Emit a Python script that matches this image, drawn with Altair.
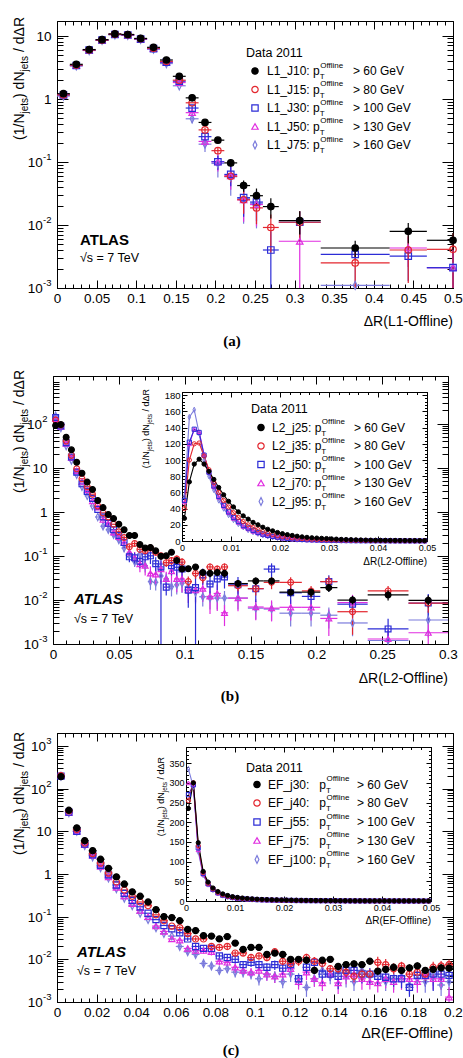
import altair as alt
import pandas as pd

W, H = 463, 1058
FONT = "Liberation Sans"

# ---------------------------------------------------------------- styling
SERIES = ["s0", "s1", "s2", "s3", "s4"]
STROKE = ["#000000", "#e3262e", "#2c2cd6", "#e02de0", "#7b7bdc"]
FILL = ["#000000", "transparent", "transparent", "transparent", "transparent"]
SHAPE = ["circle", "circle", "square", "triangle-up", "M0,-1.25L0.6,0L0,1.25L-0.6,0Z"]
PT_CUT = ["> 60 GeV", "> 80 GeV", "> 100 GeV", "> 130 GeV", "> 160 GeV"]

# ---------------------------------------------------------------- (a) L1
A_TRIG = ["L1_J10", "L1_J15", "L1_J30", "L1_J50", "L1_J75"]
A_EDGES = [0, 0.01625, 0.0325, 0.04875, 0.065, 0.08125, 0.0975, 0.11375, 0.13,
           0.14625, 0.1625, 0.17875, 0.195, 0.21125, 0.2275, 0.24375, 0.26,
           0.28, 0.333, 0.42, 0.467, 0.533]
A_J10 = [1.2, 3.5, 6.0, 8.6, 10.6, 10.4, 9.0, 6.5, 4.1, 2.26, 1.03, 0.42, 0.22,
         0.096, 0.042, 0.029, 0.0195, 0.0117, 0.0043, 0.0079, 0.0057]
A_J15 = [1.15, 3.4, 5.9, 8.5, 10.5, 10.3, 8.9, 6.3, 3.9, 1.96, 0.86, 0.32, 0.15,
         0.059, 0.025, 0.0186, 0.0091, 0.011, 0.0025, 0.0040, 0.0041]
A_J30 = [1.15, 3.35, 5.9, 8.5, 10.4, 10.2, 8.8, 6.2, 3.8, 1.89, 0.71, 0.25, 0.10,
         0.063, 0.027, 0.023, 0.0040, 0.011, 0.0034, 0.0032, 0.0021]
A_J50 = [1.15, 3.35, 5.85, 8.4, 10.4, 10.2, 8.8, 6.2, 3.75, 1.8, 0.6, 0.21, 0.10,
         0.06, 0.025, 0.021, None, 0.0055, None, 0.0043, 0.0021]
A_J75 = [1.1, 3.3, 5.8, 8.4, 10.3, 10.1, 8.7, 6.1, 3.6, 1.6, 0.48, 0.19, 0.094,
         0.058, 0.026, 0.022, None, None, 0.0011, None, 0.0021]
# relative statistical errors, covering the last bins of each series
A_ERR = [
    [0.12, 0.2, 0.3, 0.35, 0.4, 0.3, 0.35, 0.3],
    [0.08, 0.12, 0.2, 0.4, 0.45, 0.6, 0.5, 0.7, 0.7, 0.8],
    [0.1, 0.15, 0.25, 0.35, 0.5, 0.5, 0.99, 0.5, 0.15, 0.6, 0.99],
    [0.12, 0.2, 0.3, 0.4, 0.55, 0.55, None, 0.9, None, 0.5, 0.99],
    [0.15, 0.25, 0.4, 0.5, 0.6, 0.6, None, None, 0.99, None, 0.99],
]

# ---------------------------------------------------------------- (b) L2
B_TRIG = ["L2_j25", "L2_j35", "L2_j50", "L2_j70", "L2_j95"]
B_EDGES = [round(0.004 * i, 4) for i in range(26)] + [
    0.1055, 0.111, 0.1165, 0.122, 0.1275, 0.133, 0.148, 0.16, 0.172, 0.189,
    0.203, 0.216, 0.239, 0.27, 0.30]
B_J25 = [90, 95, 49, 25.4, 13.3, 7.5, 4.7, 3.2, 1.8, 1.24, 0.87, 0.70, 0.52,
         0.39, 0.29, 0.29, 0.18, 0.15, 0.155, 0.13, 0.098, 0.10, 0.12, 0.078,
         0.05, 0.051, 0.056, 0.042, 0.04, 0.042, 0.040, 0.0235, 0.027, 0.027,
         0.015, 0.015, 0.019, 0.0099, 0.013, 0.0098]
B_J35 = [120, 93, 40, 19, 9.4, 5.6, 3.7, 2.5, 1.35, 0.94, 0.76, 0.52, 0.35,
         0.26, 0.16, 0.19, 0.14, 0.13, 0.15, 0.12, 0.1, 0.07, 0.078, 0.085,
         0.072, 0.026, 0.04, 0.032, 0.056, 0.05, 0.056, 0.021, 0.018, 0.025,
         0.025, 0.016, 0.026, 0.0054, 0.016, 0.0085]
B_J50 = [137, 88, 37, 17.5, 7.9, 4.3, 2.9, 2.0, 1.13, 0.76, 0.55, 0.39, 0.29,
         0.20, 0.095, 0.09, 0.075, 0.095, 0.1, 0.066, 0.056, 0.0195, 0.06,
         0.055, 0.05, 0.0166, 0.019, 0.037, 0.023, 0.03, 0.033, 0.022, 0.018,
         0.05, 0.0145, 0.012, 0.026, 0.008, 0.0022, 0.0085]
B_J70 = [127, 85, 35, 17, 8.5, 4.8, 3.1, 1.75, 1.25, 0.66, 0.53, 0.34, 0.27,
         0.2, 0.12, 0.09, 0.065, 0.06, 0.04, 0.038, 0.05, 0.03, 0.045, 0.03,
         0.03, 0.017, 0.0166, 0.018, 0.012, 0.014, 0.0051, 0.011, 0.0069,
         0.0065, 0.0068, 0.0068, 0.0038, 0.0087, 0.0013, 0.0018]
B_J95 = [150, 80, 31, 14.5, 6.9, 3.7, 2.3, 1.35, 0.76, 0.47, 0.39, 0.30, 0.23,
         0.15, 0.11, 0.074, 0.11, 0.06, 0.026, 0.025, 0.035, 0.03, 0.02, 0.022,
         0.024, 0.02, 0.015, 0.0118, 0.011, 0.011, 0.011, 0.011, 0.0065,
         0.0062, 0.005, 0.005, 0.0045, 0.003, 0.0012, 0.0035]
B_ERR = [
    [0.08, 0.08, 0.1, 0.1, 0.1, 0.12, 0.12, 0.12, 0.12, 0.15, 0.15,
     0.15, 0.15, 0.18, 0.18, 0.18, 0.2,
     0.2, 0.2, 0.2, 0.2, 0.22, 0.2, 0.25, 0.25, 0.3],
    [0.08, 0.1, 0.12, 0.12, 0.14, 0.15, 0.15, 0.16, 0.18, 0.2, 0.2, 0.2, 0.22,
     0.3, 0.25, 0.25, 0.2, 0.2, 0.2,
     0.25, 0.3, 0.3, 0.3, 0.3, 0.3, 0.7, 0.3, 0.4],
    [0.1, 0.12, 0.14, 0.16, 0.25, 0.25, 0.3, 0.3, 0.3, 0.35, 0.4, 0.99, 0.35,
     0.4, 0.4, 0.45, 0.6, 0.99, 0.4, 0.5, 0.45, 0.45,
     0.5, 0.5, 0.35, 0.45, 0.5, 0.4, 0.5, 0.7, 0.6],
    [0.12, 0.14, 0.16, 0.2, 0.25, 0.3, 0.35, 0.35, 0.4, 0.45, 0.4, 0.5, 0.45,
     0.5, 0.5, 0.5, 0.5, 0.5, 0.5, 0.6, 0.6, 0.5,
     0.5, 0.5, 0.5, 0.5, 0.5, 0.6, 0.5, 0.6, 0.7],
    [0.1, 0.12, 0.14, 0.16, 0.2, 0.22, 0.25, 0.25, 0.3, 0.35, 0.35, 0.35, 0.35,
     0.4, 0.4, 0.4, 0.4, 0.4, 0.4, 0.45, 0.45, 0.45,
     0.45, 0.45, 0.45, 0.5, 0.5, 0.5, 0.5, 0.6, 0.6],
]

# inset (b): fine binning, linear scale
IN_EDGES = [round(0.001 * i, 4) for i in range(51)]
BI_J25 = [28, 73, 95, 101, 95, 86, 76, 66, 57, 49, 42, 36, 31, 27, 23, 20, 17,
          14.5, 12.5, 10.5, 9, 7.8, 6.8, 5.9, 5.1, 4.5, 4.0, 3.6, 3.3, 3.0, 2.6,
          2.3, 2.0, 1.8, 1.6, 1.4, 1.25, 1.1, 1.0, 0.9, 0.85, 0.8, 0.75, 0.7,
          0.65, 0.6, 0.55, 0.52, 0.5, 0.48]
BI_J35 = [40, 100, 120, 121, 105, 88, 72, 60, 50, 42, 35, 29, 24, 20, 17, 14,
          11.5, 9.5, 8, 6.5, 5.5, 4.6, 4.0, 3.5, 3.0, 2.6, 2.3, 2.0, 1.8, 1.6,
          1.4, 1.25, 1.1, 1.0, 0.9, 0.8, 0.72, 0.65, 0.6, 0.55, 0.5, 0.46, 0.42,
          0.38, 0.35, 0.32, 0.3, 0.28, 0.26, 0.25]
BI_J50 = [50, 122, 138, 134, 106, 85, 68, 55, 44, 36, 29, 24, 19, 16, 13, 10.5,
          8.5, 7, 5.7, 4.8, 4.0, 3.3, 2.8, 2.4, 2.0, 1.7, 1.5, 1.3, 1.1, 1.0,
          0.85, 0.75, 0.66, 0.6, 0.52, 0.46, 0.42, 0.38, 0.34, 0.31, 0.28,
          0.26, 0.24, 0.22, 0.2, 0.19, 0.18, 0.17, 0.16, 0.15]
BI_J70 = [48, 120, 138, 135, 107, 85, 67, 54, 43, 35, 28, 23, 18, 15, 12, 10, 8,
          6.5, 5.3, 4.3, 3.5, 2.9, 2.4, 2.0, 1.7, 1.45, 1.25, 1.1, 0.95, 0.85,
          0.75, 0.66, 0.58, 0.52, 0.46, 0.41, 0.37, 0.33, 0.3, 0.27, 0.25,
          0.23, 0.21, 0.2, 0.19, 0.18, 0.17, 0.16, 0.15, 0.14]
BI_J95 = [55, 153, 162, 133, 100, 80, 63, 50, 40, 32, 26, 21, 17, 13.5, 11, 9,
          7, 5.7, 4.6, 3.7, 3.0, 2.5, 2.1, 1.75, 1.45, 1.2, 1.0, 0.85, 0.75,
          0.65, 0.56, 0.5, 0.44, 0.39, 0.35, 0.31, 0.28, 0.25, 0.23, 0.21,
          0.19, 0.17, 0.16, 0.15, 0.14, 0.13, 0.12, 0.11, 0.1, 0.1]

# ---------------------------------------------------------------- (c) EF
C_TRIG = ["EF_j30", "EF_j40", "EF_j55", "EF_j75", "EF_j100"]
C_EDGES = [round(0.004 * i, 4) for i in range(51)]
C_J30 = [190, 31, 12, 6.0, 3.5, 2.2, 1.35, 0.85, 0.58, 0.38,
         0.30, 0.22, 0.145, 0.10, 0.095, 0.08, 0.05, 0.047, 0.036, 0.035,
         0.03, 0.034, 0.024, 0.017, 0.019, 0.019, 0.013, 0.014, 0.013, 0.010,
         0.010, 0.0095, 0.0055, 0.0095, 0.010, 0.0068, 0.0075, 0.0078, 0.0075, 0.009,
         0.0053, 0.0058, 0.0065, 0.0055, 0.0063, 0.007, 0.0055, 0.0058, 0.0063, 0.0062]
C_J40 = [200, 30, 11, 5.3, 3.0, 1.8, 1.05, 0.65, 0.42, 0.30,
         0.22, 0.18, 0.11, 0.08, 0.06, 0.055, 0.04, 0.03, 0.03, 0.02,
         0.019, 0.02, 0.014, 0.014, 0.011, 0.012, 0.011, 0.015, 0.009, 0.008,
         0.009, 0.011, 0.009, 0.008, 0.006, 0.006, 0.005, 0.004, 0.0045, 0.0045,
         0.0085, 0.0075, 0.006, 0.007, 0.0045, 0.005, 0.0045, 0.0065, 0.007, 0.0075]
C_J55 = [195, 28, 10, 5.0, 2.8, 1.6, 0.95, 0.55, 0.35, 0.24,
         0.17, 0.12, 0.085, 0.062, 0.052, 0.042, 0.03, 0.02, 0.018, 0.018,
         0.012, 0.011, 0.01, 0.0075, 0.0085, 0.0075, 0.0065, 0.0075, 0.0062, 0.0075,
         0.0035, 0.0065, 0.0085, 0.0045, 0.0045, 0.004, 0.0055, 0.0055, 0.0045, 0.0045,
         0.004, 0.0038, 0.0035, 0.0035, 0.0022, 0.0042, 0.0042, 0.0045, 0.0045, 0.0042]
C_J75 = [200, 27, 10, 4.8, 2.7, 1.5, 0.85, 0.48, 0.30, 0.20,
         0.14, 0.10, 0.06, 0.045, 0.03, 0.028, 0.018, 0.016, 0.016, 0.015,
         0.009, 0.0085, 0.0065, 0.0055, 0.005, 0.0055, 0.0045, 0.004, 0.0045, 0.006,
         0.003, 0.005, 0.0035, 0.0028, 0.0045, 0.0028, 0.004, 0.0045, 0.0035, 0.003,
         0.0028, 0.0035, 0.003, 0.0035, 0.0035, 0.003, 0.004, 0.0035, 0.0035, 0.0013]
C_J100 = [195, 27, 10, 4.6, 2.5, 1.4, 0.8, 0.45, 0.27, 0.18,
          0.12, 0.085, 0.055, 0.04, 0.035, 0.02, 0.015, 0.013, 0.008, 0.007,
          0.0055, 0.006, 0.005, 0.005, 0.0045, 0.0035, 0.0045, 0.004, 0.003, 0.0045,
          0.0035, 0.0022, 0.0035, 0.0055, 0.004, 0.005, 0.004, 0.003, 0.0055, 0.004,
          0.0045, 0.003, 0.0035, 0.004, 0.0025, 0.0035, 0.003, 0.004, 0.0025, 0.003]
C_ERR = [
    [0.05, 0.05, 0.06, 0.06, 0.07, 0.07, 0.08, 0.08, 0.09, 0.1,
     0.1, 0.12, 0.12, 0.12, 0.14, 0.14, 0.15, 0.2, 0.15, 0.15,
     0.18, 0.18, 0.18, 0.15, 0.2, 0.2, 0.2, 0.2, 0.2, 0.2],
    [0.08, 0.08, 0.1, 0.1, 0.12, 0.12, 0.14, 0.14, 0.15, 0.16,
     0.18, 0.18, 0.2, 0.2, 0.2, 0.22, 0.22, 0.25, 0.25, 0.2,
     0.25, 0.25, 0.25, 0.3, 0.3, 0.35, 0.35, 0.35, 0.25, 0.25,
     0.3, 0.3, 0.35, 0.3, 0.3],
    [0.1, 0.1, 0.12, 0.12, 0.15, 0.15, 0.18, 0.2, 0.2, 0.22,
     0.25, 0.25, 0.25, 0.3, 0.3, 0.3, 0.3, 0.3, 0.4, 0.3,
     0.5, 0.35, 0.3, 0.4, 0.4, 0.4, 0.35, 0.35, 0.4, 0.4,
     0.4, 0.45, 0.6, 0.4, 0.4],
    [0.12, 0.12, 0.15, 0.15, 0.18, 0.2, 0.2, 0.25, 0.25, 0.25,
     0.3, 0.3, 0.3, 0.3, 0.35, 0.35, 0.35, 0.35, 0.35, 0.3,
     0.45, 0.35, 0.4, 0.45, 0.35, 0.4, 0.4, 0.45, 0.45, 0.4,
     0.45, 0.4, 0.45, 0.45, 0.7],
    [0.12, 0.12, 0.15, 0.15, 0.18, 0.2, 0.2, 0.25, 0.25, 0.25,
     0.3, 0.3, 0.3, 0.3, 0.35, 0.35, 0.4, 0.35, 0.3, 0.35,
     0.4, 0.45, 0.4, 0.3, 0.35, 0.35, 0.4, 0.45, 0.35, 0.4,
     0.4, 0.45, 0.4, 0.45, 0.5],
]

# inset (c)
CI_J30 = [235, 300, 148, 75, 48, 33, 24, 18, 14, 11, 9, 7.5, 6.3, 5.3, 4.6, 4.0,
          3.5, 3.1, 2.8, 2.5, 2.2, 2.0, 1.8, 1.6, 1.5, 1.4, 1.3, 1.2, 1.1, 1.0,
          0.8, 0.7, 0.65, 0.6, 0.55, 0.5, 0.45, 0.42, 0.38, 0.35, 0.33, 0.31,
          0.29, 0.27, 0.24, 0.22, 0.2, 0.19, 0.17, 0.16]
CI_J40 = [255, 300, 140, 72, 45, 31, 22, 16, 12, 9.5, 7.8, 6.4, 5.3, 4.5, 3.8,
          3.3, 2.9, 2.6, 2.3, 2.0, 1.8, 1.6, 1.4, 1.3, 1.2, 1.05, 0.95, 0.85,
          0.75, 0.68, 0.6, 0.55, 0.48, 0.44, 0.4, 0.36, 0.33, 0.3, 0.28, 0.26,
          0.24, 0.22, 0.2, 0.19, 0.18, 0.17, 0.15, 0.14, 0.12, 0.11]
CI_J55 = [270, 295, 135, 70, 44, 30, 21, 15, 11.5, 9, 7.3, 6, 5, 4.2, 3.6, 3.1,
          2.7, 2.4, 2.1, 1.9, 1.7, 1.5, 1.3, 1.2, 1.05, 0.95, 0.85, 0.75, 0.65,
          0.6, 0.52, 0.46, 0.41, 0.37, 0.33, 0.3, 0.27, 0.25, 0.22, 0.2, 0.18,
          0.16, 0.15, 0.14, 0.13, 0.12, 0.1, 0.09, 0.085, 0.08]
CI_J75 = [300, 295, 130, 68, 43, 29, 20, 14.5, 11, 8.7, 7, 5.8, 4.8, 4.0, 3.4,
          2.9, 2.5, 2.2, 2.0, 1.8, 1.6, 1.4, 1.2, 1.1, 0.95, 0.85, 0.75, 0.66,
          0.58, 0.52, 0.46, 0.4, 0.36, 0.32, 0.28, 0.25, 0.22, 0.2, 0.18, 0.16,
          0.14, 0.13, 0.12, 0.11, 0.1, 0.09, 0.08, 0.07, 0.065, 0.06]
CI_J100 = [335, 290, 125, 66, 42, 28, 19.5, 14, 10.5, 8.3, 6.7, 5.5, 4.6, 3.8,
           3.2, 2.8, 2.4, 2.1, 1.9, 1.7, 1.5, 1.3, 1.15, 1.0, 0.9, 0.8, 0.7,
           0.62, 0.55, 0.48, 0.43, 0.38, 0.34, 0.3, 0.27, 0.24, 0.21, 0.19,
           0.17, 0.15, 0.13, 0.12, 0.11, 0.1, 0.09, 0.08, 0.07, 0.065, 0.06, 0.055]

# ---------------------------------------------------------------- geometry
PA = dict(l=57, r=453, t=21, b=288, xd=[0, 0.5], yd=[1e-3, 17], yt="log")
PB = dict(l=53, r=448, t=376, b=644, xd=[0, 0.3], yd=[1e-3, 1200], yt="log")
PBI = dict(l=182, r=427, t=392, b=541, xd=[0, 0.05], yd=[0, 184], yt="linear")
PC = dict(l=57, r=453, t=733, b=1002, xd=[0, 0.2], yd=[1e-3, 2000], yt="log")
PCI = dict(l=186, r=431, t=747, b=901, xd=[0, 0.05], yd=[0, 391], yt="linear")

stroke_enc = alt.Stroke("s:N", scale=alt.Scale(domain=SERIES, range=STROKE), legend=None)
fill_enc = alt.Fill("s:N", scale=alt.Scale(domain=SERIES, range=FILL), legend=None)
shape_enc = alt.Shape("s:N", scale=alt.Scale(domain=SERIES, range=SHAPE), legend=None)

# Arial / Liberation Sans advance widths (em units) for placing text pieces
AW = {" ": .278, "(": .333, ")": .333, "/": .278, "1": .556, "N": .722,
      "d": .556, "\u0394": .668, "R": .722, "j": .222, "e": .556, "t": .278,
      "s": .5, "-": .333, "p": .556, "L": .556, "J": .5, "_": .556, ":": .278,
      "E": .667, "F": .611, "O": .778, "f": .278, "l": .222, "i": .222, "n": .556}


def tw(s, fs):
    return sum(AW.get(c, .556) for c in s) * fs


def sx(p):
    return alt.Scale(type="linear", domain=p["xd"], range=[p["l"], p["r"]],
                     nice=False, zero=False, clamp=True)


def sy(p):
    if p["yt"] == "log":
        return alt.Scale(type="log", domain=p["yd"], range=[p["b"], p["t"]],
                         nice=False, clamp=True)
    return alt.Scale(type="linear", domain=p["yd"], range=[p["b"], p["t"]],
                     nice=False, zero=False, clamp=True)


def series_frame(edges, values, errors=None):
    rows = []
    for k in (4, 3, 2, 1, 0):          # black drawn last, on top
        vals = values[k]
        errs = errors[k] if errors else []
        n, m = len(vals), len(errs)
        for i, v in enumerate(vals):
            if v is None:
                continue
            lo, hi = edges[i], edges[i + 1]
            j = i - (n - m)
            f = errs[j] if 0 <= j < m else None
            rows.append(dict(s=SERIES[k], x=(lo + hi) / 2, xlo=lo, xhi=hi, y=v,
                             ylo=v * (1 - f) if f else None,
                             yhi=v * (1 + f) if f else None))
    return pd.DataFrame(rows)


def main_layers(p, df, size):
    X = lambda f: alt.X(f"{f}:Q", scale=sx(p), axis=None)
    Y = lambda f: alt.Y(f"{f}:Q", scale=sy(p), axis=None)
    xerr = alt.Chart(df).mark_rule(strokeWidth=1.2).encode(
        x=X("xlo"), x2="xhi:Q", y=Y("y"), stroke=stroke_enc)
    ed = df.dropna(subset=["ylo"])
    yerr = alt.Chart(ed).mark_rule(strokeWidth=1.2).encode(
        x=X("x"), y=Y("ylo"), y2="yhi:Q", stroke=stroke_enc)
    pts = alt.Chart(df).mark_point(size=size, strokeWidth=1.2, opacity=1).encode(
        x=X("x"), y=Y("y"), stroke=stroke_enc, fill=fill_enc, shape=shape_enc)
    return [xerr, yerr, pts]


def inset_layers(p, df, size):
    X = alt.X("x:Q", scale=sx(p), axis=None)
    Y = alt.Y("y:Q", scale=sy(p), axis=None)
    line = alt.Chart(df).mark_line(strokeWidth=1.1).encode(x=X, y=Y, stroke=stroke_enc)
    pts = alt.Chart(df).mark_point(size=size, strokeWidth=1.0, opacity=1).encode(
        x=X, y=Y, stroke=stroke_enc, fill=fill_enc, shape=shape_enc)
    return [line, pts]


AX = dict(title=None, grid=False, domainColor="#000", tickColor="#000",
          labelColor="#000", labelFont=FONT, domainWidth=1, tickWidth=1,
          labelOverlap=False, labelFlush=False)


def axis_layer(p, xaxis, yaxis):
    df = pd.DataFrame({"x": [p["xd"][0]], "y": [p["yd"][0]]})
    return alt.Chart(df).mark_point(opacity=0).encode(
        x=alt.X("x:Q", scale=sx(p), axis=xaxis),
        y=alt.Y("y:Q", scale=sy(p), axis=yaxis))


def inside(vals, d):
    return [v for v in vals if d[0] - 1e-12 <= v <= d[1] + 1e-12]


def frame(p, xmaj, xmin, ymaj, ymin, xt, yt, xfs, yfs=None, xpad=3):
    xmaj, xmin = inside(xmaj, p["xd"]), inside(xmin, p["xd"])
    ymaj, ymin = inside(ymaj, p["yd"]), inside(ymin, p["yd"])
    out = []
    xl = alt.Axis(orient="bottom", offset=p["b"] - H, values=xmaj, format="~g",
                  ticks=False, tickSize=0, domain=False, labelFontSize=xfs,
                  labelPadding=xpad, **AX)
    yl = None
    if yfs:
        yl = alt.Axis(orient="left", offset=-p["l"], values=ymaj, format="d",
                      ticks=False, tickSize=0, domain=False, labelFontSize=yfs,
                      labelPadding=2, **AX)
    out.append(axis_layer(p, xl, yl))
    # bottom and left edges, ticks pointing into the frame
    out.append(axis_layer(
        p,
        alt.Axis(orient="top", offset=-p["b"], values=xmaj, tickSize=xt[0], labels=False, domain=True, **AX),
        alt.Axis(orient="right", offset=p["l"] - W, values=ymaj, tickSize=yt[0], labels=False, domain=True, **AX)))
    out.append(axis_layer(
        p,
        alt.Axis(orient="top", offset=-p["b"], values=xmin, tickSize=xt[1], labels=False, domain=False, **AX),
        alt.Axis(orient="right", offset=p["l"] - W, values=ymin, tickSize=yt[1], labels=False, domain=False, **AX)))
    # top and right edges
    out.append(axis_layer(
        p,
        alt.Axis(orient="bottom", offset=p["t"] - H, values=xmaj, tickSize=xt[0], labels=False, domain=True, **AX),
        alt.Axis(orient="left", offset=-p["r"], values=ymaj, tickSize=yt[0], labels=False, domain=True, **AX)))
    out.append(axis_layer(
        p,
        alt.Axis(orient="bottom", offset=p["t"] - H, values=xmin, tickSize=xt[1], labels=False, domain=False, **AX),
        alt.Axis(orient="left", offset=-p["r"], values=ymin, tickSize=yt[1], labels=False, domain=False, **AX)))
    return out


def log_labels(p, exps, fs=13.5, fe=9.5, pad=5.5):
    rows = []
    for e, v in exps:
        if e:
            xe = p["l"] - pad - tw(e, fe)
            rows.append(dict(v=v, b="10", e=e, xb=xe - 0.3, xe=xe))
        else:
            rows.append(dict(v=v, b="10" if v == 10 else "1", e="",
                             xb=p["l"] - pad, xe=p["l"] - pad))
    df = pd.DataFrame(rows)
    Y = alt.Y("v:Q", scale=sy(p), axis=None)
    base = alt.Chart(df).mark_text(align="right", baseline="middle", font=FONT,
                                   fontSize=fs, color="#000", dy=1).encode(
        x=alt.X("xb:Q", scale=None, axis=None), y=Y, text="b:N")
    sup = alt.Chart(df[df.e != ""]).mark_text(align="left", baseline="middle", font=FONT,
                                              fontSize=fe, color="#000", dy=-5).encode(
        x=alt.X("xe:Q", scale=None, axis=None), y=Y, text="e:N")
    return [base, sup]


def decades(lo, hi):
    out = []
    e = lo
    while e <= hi:
        for m in range(2, 10):
            out.append(m * 10.0 ** e)
        e += 1
    return out


def text_layer(rows, **mark):
    mark.setdefault("font", FONT)
    mark.setdefault("color", "#000")
    df = pd.DataFrame(rows, columns=["t", "px", "py", "fs"])
    return alt.Chart(df).mark_text(**mark).encode(
        text="t:N",
        x=alt.X("px:Q", scale=None, axis=None),
        y=alt.Y("py:Q", scale=None, axis=None),
        size=alt.Size("fs:Q", scale=None, legend=None))


def ytitle(xb, ytop, fs, fsub):
    shift = fs * 0.28
    pieces = [("/ d\u0394R", fs, 0.0, tw(" ", fs)), ("jets", fsub, shift, 0.0),
              (") dN", fs, 0.0, 0.0), ("jets", fsub, shift, 0.0), ("(1/N", fs, 0.0, 0.0)]
    rows, y = [], ytop
    for t, f, sh, gap in pieces:
        rows.append((t, xb + sh, y, f))
        y += tw(t, f) + gap
    return rows


def legend_rows(x_txt, y_head, ys, trig, x_thr, p_col=None):
    rows = [("Data 2011", x_txt - 21 if p_col is None else x_txt - 22, y_head, 12.5)]
    for k in range(5):
        y = ys[k]
        if p_col is None:
            pre = trig[k] + ": p"
            rows.append((pre, x_txt, y, 12))
            xs = x_txt + tw(pre, 12)
        else:
            rows.append((trig[k] + ":", x_txt, y, 12))
            rows.append(("p", p_col, y, 12))
            xs = p_col + tw("p", 12)
        rows.append(("T", xs, y + 6, 8))
        rows.append(("Offline", xs + 0.5, y - 5.5, 8))
        rows.append((PT_CUT[k], x_thr, y, 12))
    return rows


def legend_symbols(x, ys, size):
    df = pd.DataFrame(dict(s=SERIES, px=[x] * 5, py=ys))
    return alt.Chart(df).mark_point(size=size, strokeWidth=1.2, opacity=1).encode(
        x=alt.X("px:Q", scale=None, axis=None), y=alt.Y("py:Q", scale=None, axis=None),
        stroke=stroke_enc, fill=fill_enc, shape=shape_enc)


# ---------------------------------------------------------------- assemble
layers = []

# panel (a)
layers += frame(PA, [round(0.05 * i, 2) for i in range(11)], [round(0.01 * i, 2) for i in range(51)],
                [1e-3, 1e-2, 1e-1, 1, 10], decades(-3, 1), (8, 4), (11, 6), 13.5)
layers += log_labels(PA, [("-3", 1e-3), ("-2", 1e-2), ("-1", 1e-1), ("", 1), ("", 10)])
layers += main_layers(PA, series_frame(A_EDGES, [A_J10, A_J15, A_J30, A_J50, A_J75], A_ERR), 42)

# panel (b)
layers += frame(PB, [round(0.05 * i, 2) for i in range(7)], [round(0.01 * i, 2) for i in range(31)],
                [1e-3, 1e-2, 1e-1, 1, 10, 100], decades(-3, 3), (8, 4), (11, 6), 13.5)
layers += log_labels(PB, [("-3", 1e-3), ("-2", 1e-2), ("-1", 1e-1), ("", 1), ("", 10), ("2", 100)])
layers += main_layers(PB, series_frame(B_EDGES, [B_J25, B_J35, B_J50, B_J70, B_J95], B_ERR), 34)
layers += frame(PBI, [round(0.01 * i, 2) for i in range(6)], [round(0.002 * i, 3) for i in range(26)],
                list(range(0, 181, 20)), list(range(0, 185, 4)), (5, 2.5), (5, 2.5), 9, 9.5, xpad=2)
layers += inset_layers(PBI, series_frame(IN_EDGES, [BI_J25, BI_J35, BI_J50, BI_J70, BI_J95]), 18)

# panel (c)
layers += frame(PC, [round(0.02 * i, 2) for i in range(11)], [round(0.004 * i, 3) for i in range(51)],
                [1e-3, 1e-2, 1e-1, 1, 10, 100, 1000], decades(-3, 3), (8, 4), (11, 6), 13.5)
layers += log_labels(PC, [("-3", 1e-3), ("-2", 1e-2), ("-1", 1e-1), ("", 1), ("", 10),
                          ("2", 100), ("3", 1000)])
layers += main_layers(PC, series_frame(C_EDGES, [C_J30, C_J40, C_J55, C_J75, C_J100], C_ERR), 38)
layers += frame(PCI, [round(0.01 * i, 2) for i in range(6)], [round(0.002 * i, 3) for i in range(26)],
                list(range(0, 351, 50)), list(range(0, 391, 10)), (5, 2.5), (5, 2.5), 9, 9, xpad=2)
layers += inset_layers(PCI, series_frame(IN_EDGES, [CI_J30, CI_J40, CI_J55, CI_J75, CI_J100]), 18)

# y-axis titles (rotated, with subscripts)
rot = ytitle(24, 17, 14, 10) + ytitle(24, 370, 14, 10) + ytitle(24, 732, 14, 10) \
    + ytitle(149, 389, 9, 6.5) + ytitle(164, 757, 9, 6.5)
layers.append(text_layer(rot, angle=270, align="right", baseline="alphabetic"))

# x-axis titles
layers.append(text_layer([
    ("\u0394R(L1-Offline)", 453, 326, 14),
    ("\u0394R(L2-Offline)", 448, 683, 14),
    ("\u0394R(EF-Offline)", 453, 1038, 14),
    ("\u0394R(L2-Offline)", 427, 565, 10),
    ("\u0394R(EF-Offline)", 431, 924, 10),
], align="right", baseline="alphabetic"))

# ATLAS labels
layers.append(text_layer([("ATLAS", 80, 245, 15)], align="left", baseline="alphabetic",
                         fontWeight="bold"))
layers.append(text_layer([("ATLAS", 74, 604, 15), ("ATLAS", 77, 957, 15)], align="left",
                         baseline="alphabetic", fontWeight="bold", fontStyle="italic"))
layers.append(text_layer([("\u221as = 7 TeV", 80, 262, 12.5), ("\u221as = 7 TeV", 74, 623, 12.5),
                          ("\u221as = 7 TeV", 77, 975, 12.5)], align="left", baseline="alphabetic"))

# panel tags
layers.append(text_layer([("(a)", 232, 346, 15), ("(b)", 230, 701, 15), ("(c)", 231, 1055, 15)],
                         align="center", baseline="alphabetic", font="Liberation Serif",
                         fontWeight="bold"))

# legends
YA = [71, 89.5, 108, 126.5, 145]
YB = [427.5, 446, 464.5, 483, 501.5]
YC = [784.5, 803, 822, 840.5, 859.5]
leg = legend_rows(267, 53, YA, A_TRIG, 353) + legend_rows(272, 409, YB, B_TRIG, 354) \
    + legend_rows(268, 768, YC, C_TRIG, 357, p_col=268 + tw("EF_j100: ", 12))
layers.append(text_layer(leg, align="left", baseline="middle"))
layers.append(legend_symbols(255, YA, 40))
layers.append(legend_symbols(261, YB, 40))
layers.append(legend_symbols(257, YC, 40))

chart = alt.layer(*layers).resolve_scale(
    x="independent", y="independent"
).properties(
    width=W, height=H, padding=0,
    autosize=alt.AutoSizeParams(type="none"),
    background="white",
).configure_view(stroke=None)

chart.save("out.html", embed_options={"renderer": "svg", "actions": False})
